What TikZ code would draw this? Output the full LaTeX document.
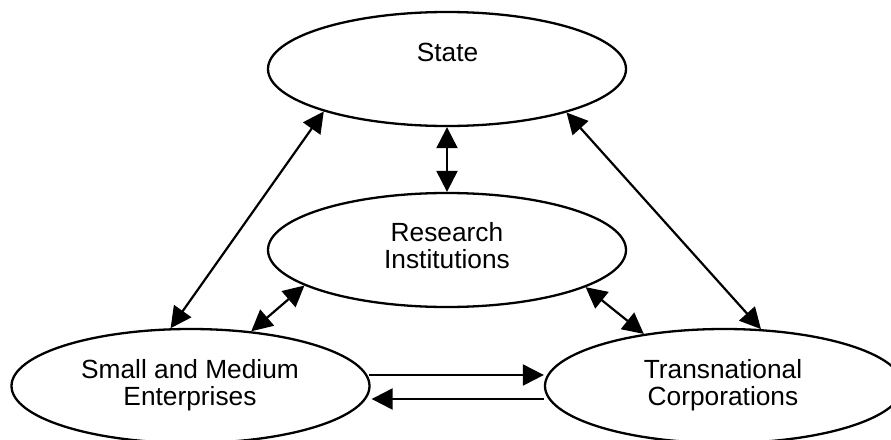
\documentclass[tikz,border=0pt]{standalone}
\usepackage{fontspec}
\setmainfont{Liberation Sans}
\usetikzlibrary{shapes.geometric,arrows.meta,calc}
\begin{document}
\begin{tikzpicture}[x=1pt,y=-1pt,
  ell/.style={ellipse,draw,line width=2.3pt,minimum width=358pt,minimum height=114pt,inner sep=0pt},
  lbl/.style={font=\fontsize{26.3}{27}\selectfont,align=center,inner sep=0pt},
  conn/.style={line width=2.2pt,{Triangle[length=21pt,width=21pt]}-{Triangle[length=21pt,width=21pt]}},
  one/.style={line width=2.2pt,-{Triangle[length=21pt,width=21pt]}}]
\useasboundingbox (0,0) rectangle (891,439);
% ellipses
\node[ell] (state) at (447,69) {};
\node[ell] (res) at (447,250) {};
\node[ell] (sme) at (190.5,386) {};
\node[ell] (tc) at (724,386) {};
% labels
\node[lbl] (statet) at (447.5,52.5) {State};
\node[lbl] (rest) at (447,245.5) {Research\\Institutions};
\node[lbl] (smet) at (190,385) {Small and Medium\\Enterprises};
\node[lbl] (tct) at (723,385) {Transnational\\Corporations};
% connectors
\draw[conn] (sme.109) -- (state.199.4);
\draw[conn] (tc.57.2) -- (state.340.9);
\draw[conn] (state.270) -- (res.90);
\draw[conn] (sme.42) -- (res.194.2);
\draw[conn] (tc.147.9) -- (res.345.8);
\draw[one] ($(sme.east)+(-2,-11)$) -- ($(tc.west)+(0,-11)$);
\draw[one] ($(tc.west)+(0,13)$) -- ($(sme.east)+(1,13)$);
\end{tikzpicture}
\end{document}
